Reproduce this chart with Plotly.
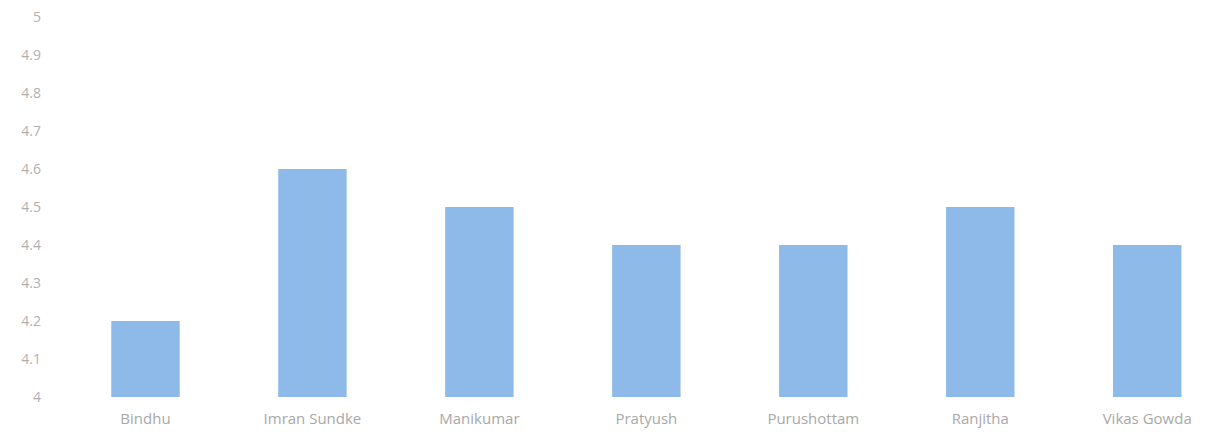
import plotly.graph_objects as go

names = ["Bindhu", "Imran Sundke", "Manikumar", "Pratyush", "Purushottam", "Ranjitha", "Vikas Gowda"]
scores = [4.2, 4.6, 4.5, 4.4, 4.4, 4.5, 4.4]
y_ticks = [4.0, 4.1, 4.2, 4.3, 4.4, 4.5, 4.6, 4.7, 4.8, 4.9, 5.0]
y_tick_text = ["4", "4.1", "4.2", "4.3", "4.4", "4.5", "4.6", "4.7", "4.8", "4.9", "5"]

fig = go.Figure(go.Bar(
    x=names, y=scores, base=0,
    marker=dict(color="#8EBAE9", line=dict(width=0)),
    width=0.41,
))

fig.update_layout(
    width=1219, height=432,
    margin=dict(l=54, r=8, t=9, b=43),
    plot_bgcolor="white", paper_bgcolor="white",
    showlegend=False,
    font=dict(family="Open Sans, Noto Sans, sans-serif", color="#ababab", size=14),
)
fig.update_xaxes(range=[-0.5, 6.43], showgrid=False, showline=False, zeroline=False,
                 tickfont=dict(size=15, color="#a8a8a8"), ticklabelstandoff=11,
                 automargin=False)
fig.update_yaxes(range=[4, 5], tickvals=y_ticks, ticktext=y_tick_text, showgrid=False,
                 showline=False, zeroline=False, tickfont=dict(size=14, color="#b0b0b0"),
                 ticklabelstandoff=20, ticklabeloverflow="allow", automargin=False)

fig.write_html("out.html")
